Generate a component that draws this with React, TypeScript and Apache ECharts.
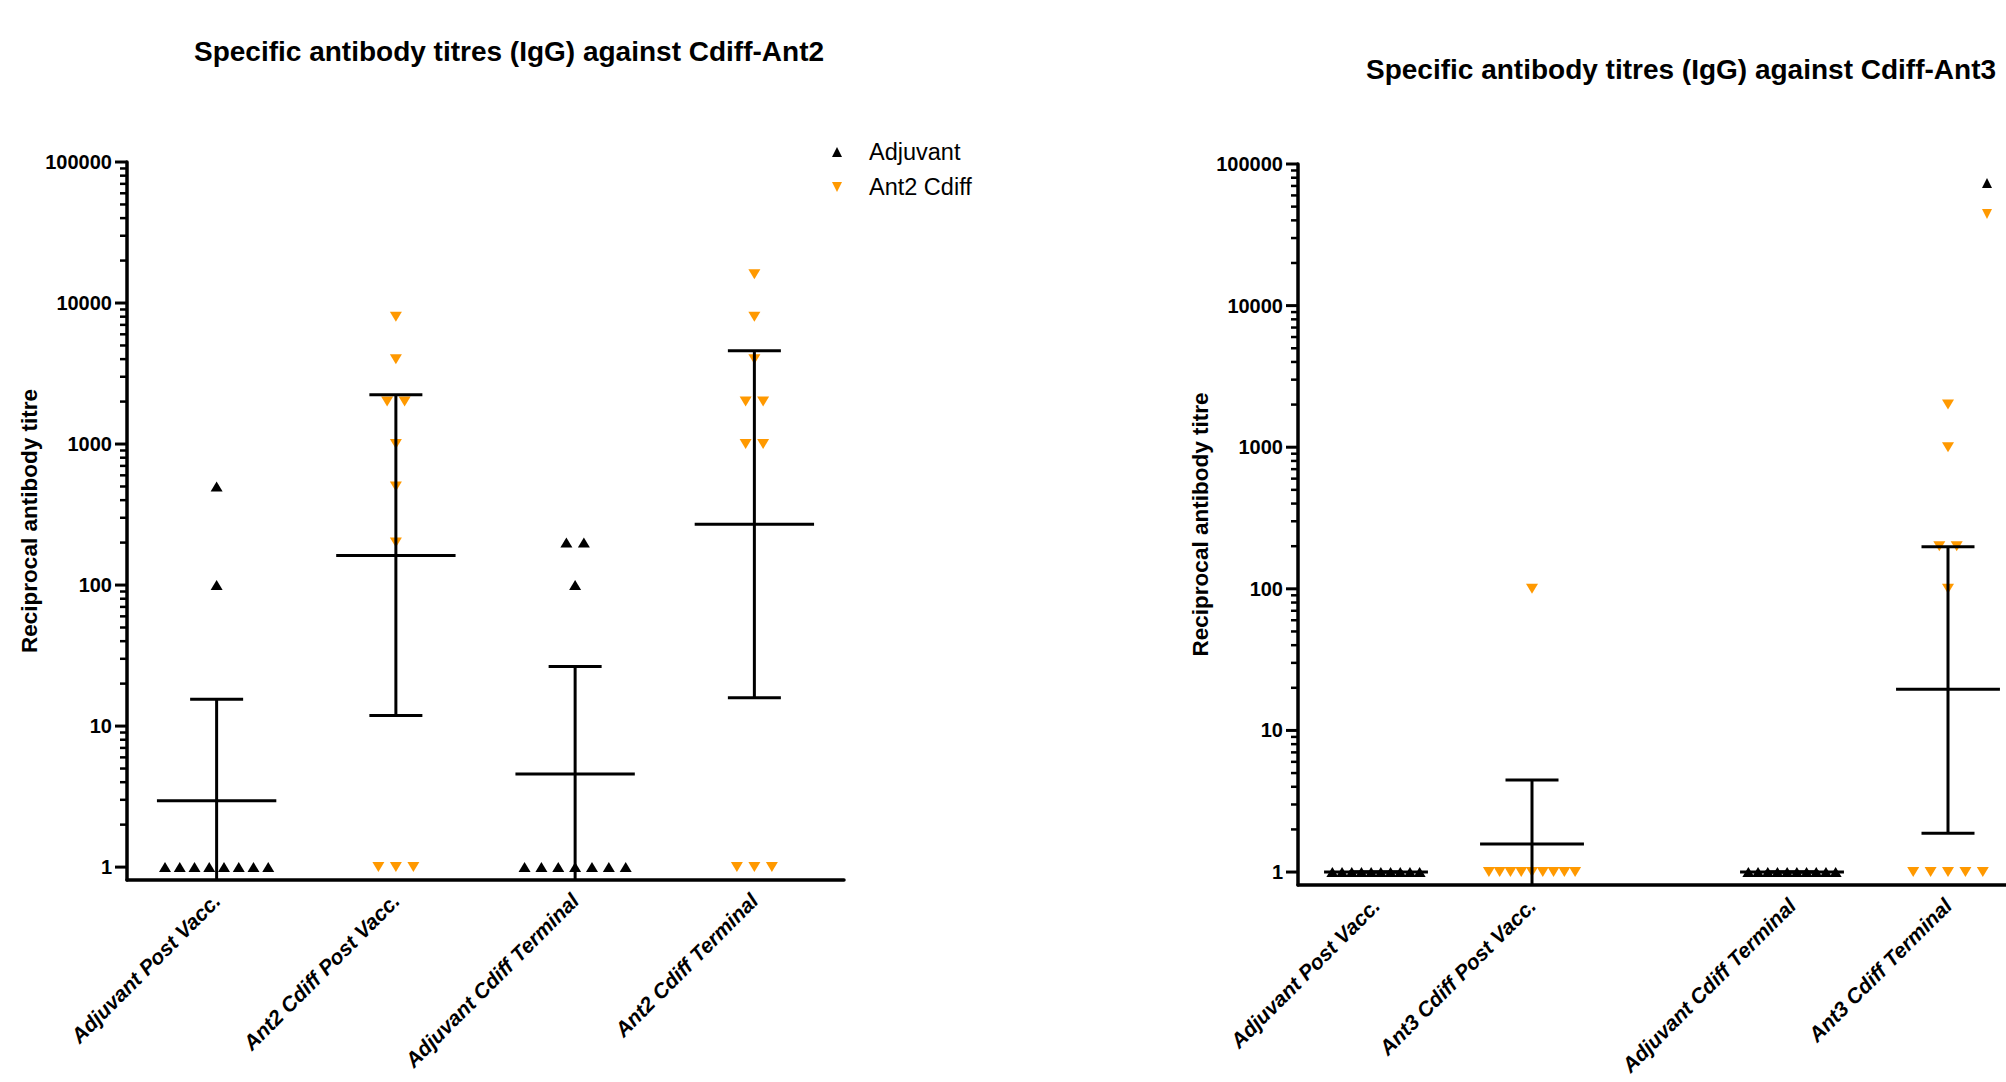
import React, { useEffect, useRef } from 'react';
import * as echarts from 'echarts';

// ---------------- data ----------------
const TITLE_ANT2 = 'Specific antibody titres (IgG) against Cdiff-Ant2';
const TITLE_ANT3 = 'Specific antibody titres (IgG) against Cdiff-Ant3';
const Y_NAME = 'Reciprocal antibody titre';

const SERIES_ADJ = 'Adjuvant';
const SERIES_ANT2 = 'Ant2 Cdiff';
const SERIES_ANT3 = 'Ant3 Cdiff';

const ANT2_CATEGORIES = ['Adjuvant Post Vacc.', 'Ant2 Cdiff Post Vacc.', 'Adjuvant Cdiff Terminal', 'Ant2 Cdiff Terminal'];
const ANT2_GROUP_SERIES = [SERIES_ADJ, SERIES_ANT2, SERIES_ADJ, SERIES_ANT2];
const ANT2_ADJ_POST = [500, 100, 1, 1, 1, 1, 1, 1, 1, 1];
const ANT2_CDIFF_POST = [8000, 4000, 2000, 2000, 1000, 500, 200, 1, 1, 1];
const ANT2_ADJ_TERM = [200, 200, 100, 1, 1, 1, 1, 1, 1, 1];
const ANT2_CDIFF_TERM = [16000, 8000, 4000, 2000, 2000, 1000, 1000, 1, 1, 1];
const ANT2_GEOMEAN = [2.95, 162, 4.57, 270];
const ANT2_CI_LOW = [0.56, 11.9, 0.79, 15.9];
const ANT2_CI_HIGH = [15.5, 2240, 26.4, 4580];

const ANT3_CATEGORIES = ['Adjuvant Post Vacc.', 'Ant3 Cdiff Post Vacc.', 'Adjuvant Cdiff Terminal', 'Ant3 Cdiff Terminal'];
const ANT3_GROUP_SERIES = [SERIES_ADJ, SERIES_ANT3, SERIES_ADJ, SERIES_ANT3];
const ANT3_ADJ_POST = [1, 1, 1, 1, 1, 1, 1, 1, 1, 1];
const ANT3_CDIFF_POST = [100, 1, 1, 1, 1, 1, 1, 1, 1, 1];
const ANT3_ADJ_TERM = [1, 1, 1, 1, 1, 1, 1, 1, 1, 1];
const ANT3_CDIFF_TERM = [2000, 1000, 200, 200, 100, 1, 1, 1, 1, 1];
const ANT3_GEOMEAN = [1, 1.58, 1, 19.5];
const ANT3_CI_LOW = [1, 0.56, 1, 1.88];
const ANT3_CI_HIGH = [1, 4.47, 1, 198];

const Y_TICKS = [1, 10, 100, 1000, 10000, 100000];
const Y_MIN = 0.81;
const Y_MAX = 100000;

// ---------------- style / layout ----------------
const FONT = '"Liberation Sans", Arial, Helvetica, sans-serif';
const BLACK = '#000000';
const ORANGE = '#FF9900';
const UP = 'path://M5,0L10,10L0,10Z';
const DOWN = 'path://M0,0L10,0L5,10Z';

function spreadOffsets(values: number[], maxStep: number, maxSpread: number): number[] {
  const counts = new Map<number, number>();
  values.forEach((v) => counts.set(v, (counts.get(v) || 0) + 1));
  const seen = new Map<number, number>();
  return values.map((v) => {
    const n = counts.get(v) as number;
    const i = seen.get(v) || 0;
    seen.set(v, i + 1);
    const step = Math.min(maxStep, maxSpread / n);
    return (i - (n - 1) / 2) * step;
  });
}

const minorTickValues: number[] = [];
for (let k = 0; k < Y_TICKS.length - 1; k++) {
  for (let m = 2; m <= 9; m++) minorTickValues.push(m * Y_TICKS[k]);
}

type Panel = {
  idx: number;
  title: string;
  titleLeft: number;
  titleTop: number;
  grid: any;
  categories: string[];
  groupSeries: string[];
  groups: number[][];
  means: number[];
  lows: number[];
  highs: number[];
  slots: number[];
  slotCount: number;
  groupStepSlots: number;
  maxStep: number;
  maxSpread: number;
  legendNames: string[];
  legendLeft: number;
  legendTop: number;
  legendGap: number;
  legendShowText: boolean;
  nameGap: number;
};

function buildPanel(p: Panel) {
  const slotNames: string[] = [];
  for (let s = 0; s < p.slotCount; s++) {
    const gi = p.slots.indexOf(s);
    slotNames.push(gi >= 0 ? p.categories[gi] : '_' + s);
  }
  const seriesNames = Array.from(new Set(p.groupSeries));
  const scatters = seriesNames.map((name) => {
    const isAdj = name === SERIES_ADJ;
    const data: any[] = [];
    p.groups.forEach((vals, gi) => {
      if (p.groupSeries[gi] !== name) return;
      const offs = spreadOffsets(vals, p.maxStep, p.maxSpread);
      vals.forEach((v, j) => {
        data.push({ value: [p.slots[gi], v], symbolOffset: [offs[j], 0] });
      });
    });
    return {
      type: 'scatter',
      name,
      xAxisIndex: p.idx,
      yAxisIndex: p.idx,
      symbol: isAdj ? UP : DOWN,
      symbolSize: [12, 10],
      itemStyle: { color: isAdj ? BLACK : ORANGE, opacity: 1 },
      data,
      z: 2,
      silent: true,
    };
  });

  const errData = p.means.map((m, gi) => [p.slots[gi], m, p.lows[gi], p.highs[gi]]);
  const errSeries = {
    type: 'custom',
    name: 'geomean-ci-' + p.idx,
    xAxisIndex: p.idx,
    yAxisIndex: p.idx,
    encode: { x: 0, y: 1 },
    data: errData,
    z: 5,
    silent: true,
    clip: false,
    renderItem: (params: any, api: any) => {
      const cs = params.coordSys;
      const bottom = cs.y + cs.height;
      const x = api.value(0);
      const m = api.value(1);
      const lo = api.value(2);
      const hi = api.value(3);
      const band = api.size([1, 0])[0];
      const meanHalf = band * p.groupStepSlots * 0.333;
      const capHalf = 26.5;
      const pm = api.coord([x, m]);
      const cx = pm[0];
      const yHi = api.coord([x, hi])[1];
      const yLoRaw = api.coord([x, Math.max(lo, 1e-6)])[1];
      const yLo = Math.min(yLoRaw, bottom);
      const st = { stroke: BLACK, lineWidth: 3, fill: null };
      const children: any[] = [
        { type: 'line', shape: { x1: cx, y1: yHi, x2: cx, y2: yLo }, style: st },
        { type: 'line', shape: { x1: cx - capHalf, y1: yHi, x2: cx + capHalf, y2: yHi }, style: st },
        { type: 'line', shape: { x1: cx - meanHalf, y1: pm[1], x2: cx + meanHalf, y2: pm[1] }, style: st },
      ];
      if (yLoRaw <= bottom) {
        children.push({ type: 'line', shape: { x1: cx - capHalf, y1: yLo, x2: cx + capHalf, y2: yLo }, style: st });
      }
      return { type: 'group', children };
    },
  };

  const tickData = [
    ...Y_TICKS.map((v) => [0, v, 1]),
    ...minorTickValues.map((v) => [0, v, 0]),
  ];
  const tickSeries = {
    type: 'custom',
    name: 'yticks-' + p.idx,
    xAxisIndex: p.idx,
    yAxisIndex: p.idx,
    encode: { x: 0, y: 1 },
    data: tickData,
    z: 4,
    silent: true,
    clip: false,
    renderItem: (params: any, api: any) => {
      const cs = params.coordSys;
      const y = api.coord([0, api.value(1)])[1];
      const major = api.value(2) === 1;
      const len = major ? 12 : 7;
      return {
        type: 'line',
        shape: { x1: cs.x - len, y1: y, x2: cs.x, y2: y },
        style: { stroke: BLACK, lineWidth: major ? 3 : 2.5 },
      };
    },
  };

  return {
    title: {
      text: p.title,
      left: p.titleLeft,
      top: p.titleTop,
      padding: 0,
      textStyle: { fontSize: 28, fontWeight: 'bold', color: BLACK, fontFamily: FONT },
    },
    legend: {
      orient: 'vertical',
      left: p.legendLeft,
      top: p.legendTop,
      padding: 0,
      itemWidth: 12,
      itemHeight: 10,
      itemGap: p.legendGap,
      selectedMode: false,
      data: p.legendNames.map((n) => ({ name: n, icon: n === SERIES_ADJ ? UP : DOWN })),
      formatter: p.legendShowText ? '{name}' : () => '',
      textStyle: { fontSize: 23.5, color: BLACK, fontFamily: FONT, padding: [0, 0, 0, 21] },
    },
    grid: { ...p.grid, containLabel: false, outerBoundsMode: 'none' },
    xAxis: {
      type: 'category',
      gridIndex: p.idx,
      data: slotNames,
      boundaryGap: true,
      axisLine: { onZero: false, lineStyle: { color: BLACK, width: 3.5 } },
      axisTick: {
        alignWithLabel: true,
        length: 10,
        lineStyle: { color: BLACK, width: 3.5 },
        interval: (_i: number, v: string) => !String(v).startsWith('_'),
      },
      axisLabel: {
        interval: 0,
        rotate: 45,
        margin: 17,
        fontSize: 21,
        fontWeight: 'bold',
        fontStyle: 'italic',
        color: BLACK,
        fontFamily: FONT,
        formatter: (v: string) => (String(v).startsWith('_') ? '' : v),
      },
      splitLine: { show: false },
    },
    yAxis: {
      type: 'log',
      logBase: 10,
      gridIndex: p.idx,
      min: Y_MIN,
      max: Y_MAX,
      axisLine: { show: true, onZero: false, lineStyle: { color: BLACK, width: 3.5 } },
      axisTick: { show: false },
      minorTick: { show: false },
      splitLine: { show: false },
      axisLabel: {
        showMinLabel: false,
        margin: 15,
        fontSize: 20,
        fontWeight: 'bold',
        color: BLACK,
        fontFamily: FONT,
        formatter: (v: number) => String(Math.round(v)),
      },
      name: Y_NAME,
      nameLocation: 'middle',
      nameRotate: 90,
      nameGap: p.nameGap,
      nameTextStyle: { fontSize: 22.5, fontWeight: 'bold', color: BLACK, fontFamily: FONT },
    },
    series: [...scatters, tickSeries, errSeries],
  };
}

export default function App() {
  const ref = useRef<HTMLDivElement | null>(null);
  useEffect(() => {
    if (!ref.current) return;
    const chart = echarts.init(ref.current, undefined, { renderer: 'svg' });

    const left = buildPanel({
      idx: 0,
      title: TITLE_ANT2,
      titleLeft: 194,
      titleTop: 37,
      grid: { left: 127, top: 162, width: 717, height: 718 },
      categories: ANT2_CATEGORIES,
      groupSeries: ANT2_GROUP_SERIES,
      groups: [ANT2_ADJ_POST, ANT2_CDIFF_POST, ANT2_ADJ_TERM, ANT2_CDIFF_TERM],
      means: ANT2_GEOMEAN,
      lows: ANT2_CI_LOW,
      highs: ANT2_CI_HIGH,
      slots: [0, 1, 2, 3],
      slotCount: 4,
      groupStepSlots: 1,
      maxStep: 17.5,
      maxSpread: 118,
      legendNames: [SERIES_ADJ, SERIES_ANT2],
      legendLeft: 832,
      legendTop: 140,
      legendGap: 11,
      legendShowText: true,
      nameGap: 80,
    });
    const right = buildPanel({
      idx: 1,
      title: TITLE_ANT3,
      titleLeft: 1366,
      titleTop: 55,
      grid: { left: 1298, top: 164, width: 728, height: 721 },
      categories: ANT3_CATEGORIES,
      groupSeries: ANT3_GROUP_SERIES,
      groups: [ANT3_ADJ_POST, ANT3_CDIFF_POST, ANT3_ADJ_TERM, ANT3_CDIFF_TERM],
      means: ANT3_GEOMEAN,
      lows: ANT3_CI_LOW,
      highs: ANT3_CI_HIGH,
      slots: [1, 4, 9, 12],
      slotCount: 14,
      groupStepSlots: 3,
      maxStep: 17.4,
      maxSpread: 97,
      legendNames: [SERIES_ADJ, SERIES_ANT3],
      legendLeft: 1981,
      legendTop: 178,
      legendGap: 21,
      legendShowText: false,
      nameGap: 82,
    });

    chart.setOption({
      animation: false,
      backgroundColor: '#ffffff',
      textStyle: { fontFamily: FONT },
      title: [left.title, right.title],
      legend: [left.legend, right.legend],
      grid: [left.grid, right.grid],
      xAxis: [left.xAxis, right.xAxis],
      yAxis: [left.yAxis, right.yAxis],
      series: [...left.series, ...right.series],
    });
    return () => chart.dispose();
  }, []);
  return (
    <div
      ref={ref}
      style={{ position: 'absolute', left: 0, top: 0, width: 2006, height: 1082, background: '#fff' }}
    />
  );
}
